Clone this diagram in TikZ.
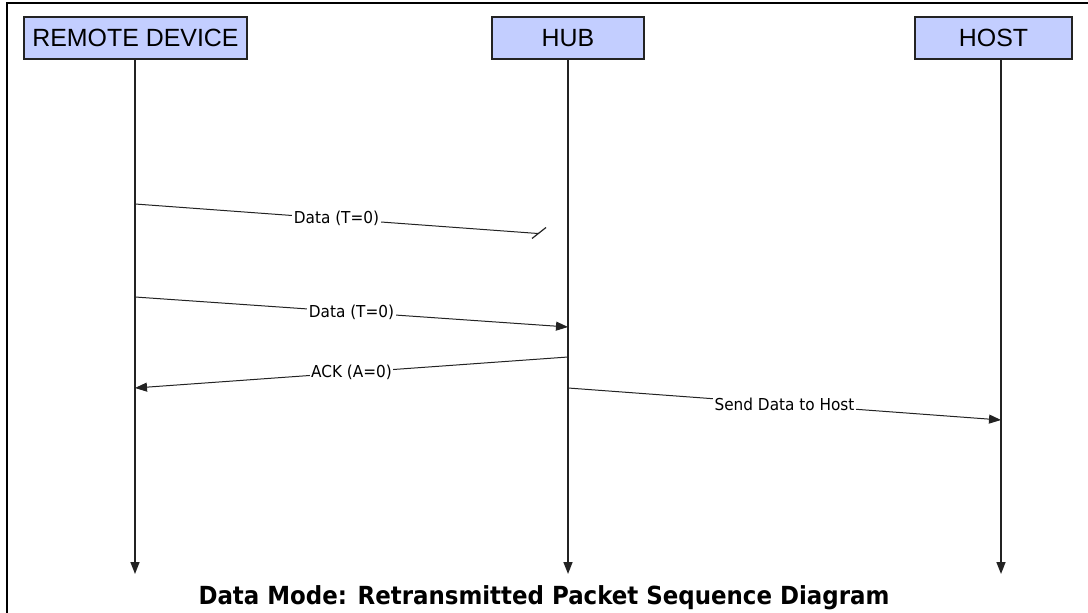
\documentclass[tikz,border=0pt]{standalone}
\usepackage{fontspec}
\setmainfont{Liberation Sans}
\newfontfamily\labelfont[FakeStretch=0.93]{DejaVu Sans}
\newfontfamily\captionfont[FakeStretch=0.92]{DejaVu Sans}
\usetikzlibrary{arrows.meta}
\definecolor{headfill}{RGB}{195,206,255}
\definecolor{linegray}{RGB}{35,35,35}
\begin{document}
\begin{tikzpicture}[x=1bp,y=-1bp,
  actor/.style={draw=linegray, line width=1.3bp, fill=headfill, minimum height=42bp,
    inner sep=0pt, font=\fontsize{25}{25}\selectfont},
  lifeline/.style={draw=linegray, line width=1.6bp, -{Triangle[length=12bp,width=9bp]}},
  msgline/.style={draw=linegray, line width=1bp},
  msgarrow/.style={msgline, -{Triangle[length=12bp,width=9bp]}},
  msglabel/.style={fill=white, inner sep=1.5bp, font=\labelfont\fontsize{16.5}{16.5}\selectfont},
  caption/.style={font=\captionfont\bfseries\fontsize{25}{25}\selectfont},
]
\useasboundingbox (0,0) rectangle (1088,613);
% frame
\draw[line width=2bp] (7,613) -- (7,3) -- (1088,3);

% participants
\node[actor, minimum width=223bp] (rd)   at (135.5,38) {REMOTE DEVICE};
\node[actor, minimum width=152bp] (hub)  at (568,38)   {HUB};
\node[actor, minimum width=157bp] (host) at (993.5,38) {HOST};

% lifelines
\coordinate (rdEnd)   at (135,574);
\coordinate (hubEnd)  at (568,574);
\coordinate (hostEnd) at (1001,574);
\draw[lifeline] (rd.south -| rdEnd) -- (rdEnd);
\draw[lifeline] (hub.south -| hubEnd) -- (hubEnd);
\draw[lifeline] (host.south -| hostEnd) -- (hostEnd);

% message points on the lifelines
\coordinate (m1s) at (135,204);
\coordinate (m1e) at (538,233.5);
\coordinate (m2s) at (135,297);
\coordinate (m2e) at (568,327);
\coordinate (m3s) at (568,357);
\coordinate (m3e) at (135,388);
\coordinate (m4s) at (568,388);
\coordinate (m4e) at (1001,420);

% lost packet
\draw[msgline] (m1s) -- node[msglabel] {Data (T=0)} (m1e);
\draw[msgline, line width=1.2bp] ([shift={(-6,5)}]m1e) -- ([shift={(8,-6)}]m1e);

% retransmission and replies
\draw[msgarrow] (m2s) -- node[msglabel] {Data (T=0)} (m2e);
\draw[msgarrow] (m3s) -- node[msglabel] {ACK (A=0)} (m3e);
\draw[msgarrow] (m4s) -- node[msglabel] {Send Data to Host} (m4e);

% caption
\node[caption] (title) at (544,598) {Data Mode: Retransmitted Packet Sequence Diagram};
\end{tikzpicture}
\end{document}
